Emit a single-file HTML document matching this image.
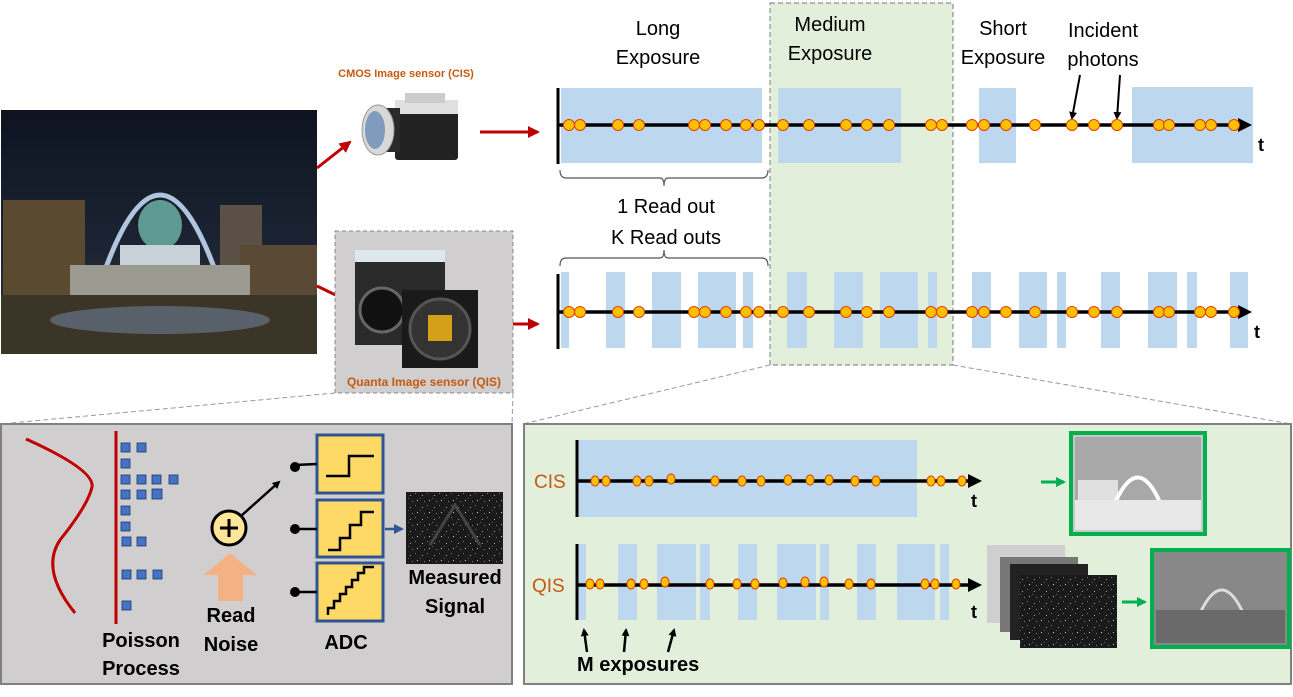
<!DOCTYPE html>
<html><head><meta charset="utf-8"><style>
body{margin:0;background:#fff;width:1293px;height:697px;overflow:hidden}
svg{display:block;font-family:"Liberation Sans",sans-serif}
</style></head><body>
<svg width="1293" height="697" viewBox="0 0 1293 697" xmlns="http://www.w3.org/2000/svg">
<defs>
<marker id="ab" markerWidth="8" markerHeight="8" refX="6" refY="4" orient="auto" markerUnits="userSpaceOnUse"><path d="M0,0 L8,4 L0,8 z" fill="#000"/></marker>
<marker id="abig" markerWidth="14" markerHeight="14" refX="10" refY="7" orient="auto" markerUnits="userSpaceOnUse"><path d="M0,0 L14,7 L0,14 z" fill="#000"/></marker>
<marker id="ar" markerWidth="12" markerHeight="12" refX="10" refY="6" orient="auto" markerUnits="userSpaceOnUse"><path d="M0,0 L12,6 L0,12 z" fill="#c00000"/></marker>
<marker id="ag" markerWidth="10" markerHeight="10" refX="8" refY="5" orient="auto" markerUnits="userSpaceOnUse"><path d="M0,0 L10,5 L0,10 z" fill="#00b050"/></marker>
<marker id="abl" markerWidth="10" markerHeight="10" refX="8" refY="5" orient="auto" markerUnits="userSpaceOnUse"><path d="M0,0 L10,5 L0,10 z" fill="#2f5597"/></marker>
<linearGradient id="sky" x1="0" y1="0" x2="0" y2="1"><stop offset="0" stop-color="#0d1420"/><stop offset="0.6" stop-color="#1d2535"/><stop offset="1" stop-color="#3a3020"/></linearGradient>
<pattern id="noise" width="12" height="12" patternUnits="userSpaceOnUse"><rect width="12" height="12" fill="#1a1a1a"/><rect x="2" y="3" width="1" height="1" fill="#aaa"/><rect x="7" y="1" width="1" height="1" fill="#777"/><rect x="9" y="8" width="1" height="1" fill="#ccc"/><rect x="4" y="9" width="1" height="1" fill="#888"/><rect x="0" y="6" width="1" height="1" fill="#666"/></pattern>
</defs>

<rect x="770" y="3" width="183" height="362" fill="#e2efda" stroke="#777" stroke-dasharray="5,3"/>

<!-- photo -->
<rect x="1" y="110" width="316" height="244" fill="url(#sky)"/>
<path d="M105,270 Q160,120 215,270" fill="none" stroke="#b0c4de" stroke-width="5"/>
<rect x="3" y="200" width="82" height="100" fill="#5a4a30"/>
<rect x="220" y="205" width="42" height="65" fill="#5a5045"/>
<rect x="240" y="245" width="77" height="50" fill="#5a4a35"/>
<ellipse cx="160" cy="225" rx="22" ry="25" fill="#5f9a92"/>
<rect x="120" y="245" width="80" height="50" fill="#c8d0d8"/>
<rect x="70" y="265" width="180" height="45" fill="#9a9a90"/>
<rect x="1" y="295" width="316" height="59" fill="#3b3528"/>
<ellipse cx="160" cy="320" rx="110" ry="14" fill="#58606a"/>

<line x1="317" y1="168" x2="350" y2="142" stroke="#c00000" stroke-width="3" marker-end="url(#ar)"/>
<line x1="317" y1="286" x2="350" y2="302" stroke="#c00000" stroke-width="3" marker-end="url(#ar)"/>
<line x1="480" y1="132" x2="538" y2="132" stroke="#c00000" stroke-width="3" marker-end="url(#ar)"/>
<line x1="480" y1="324" x2="538" y2="324" stroke="#c00000" stroke-width="3" marker-end="url(#ar)"/>

<text x="406" y="77" font-size="11" font-weight="bold" fill="#c55a11" text-anchor="middle">CMOS Image sensor (CIS)</text>
<!-- camera -->
<rect x="395" y="100" width="63" height="60" rx="3" fill="#222"/>
<rect x="395" y="100" width="63" height="14" fill="#e0e0e0"/>
<rect x="405" y="93" width="40" height="10" fill="#ccc"/>
<rect x="378" y="108" width="22" height="44" fill="#2a2a2a"/>
<ellipse cx="378" cy="130" rx="16" ry="25" fill="#d8d8d8" stroke="#999"/>
<ellipse cx="375" cy="130" rx="10" ry="19" fill="#7f9bbd"/>

<!-- QIS box -->
<rect x="335" y="231" width="178" height="162" fill="#d0cece" stroke="#888" stroke-dasharray="4,3"/>
<rect x="355" y="250" width="90" height="95" fill="#2a2a2a"/>
<rect x="355" y="250" width="90" height="12" fill="#dde8f0"/>
<circle cx="382" cy="310" r="22" fill="#111" stroke="#666" stroke-width="3"/>
<rect x="402" y="290" width="76" height="78" fill="#1a1a1a"/>
<circle cx="440" cy="329" r="30" fill="#333" stroke="#555" stroke-width="3"/>
<rect x="428" y="315" width="24" height="26" fill="#d4a017"/>
<text x="424" y="386" font-size="12" font-weight="bold" fill="#c55a11" text-anchor="middle">Quanta Image sensor (QIS)</text>

<line x1="335" y1="393" x2="0" y2="424" stroke="#999" stroke-dasharray="5,3"/>
<line x1="513" y1="393" x2="512" y2="424" stroke="#999" stroke-dasharray="5,3"/>
<line x1="770" y1="365" x2="523" y2="424" stroke="#999" stroke-dasharray="5,3"/>
<line x1="953" y1="365" x2="1291" y2="424" stroke="#999" stroke-dasharray="5,3"/>

<g font-size="20" fill="#000" text-anchor="middle">
<text x="658" y="35">Long</text><text x="658" y="64">Exposure</text>
<text x="830" y="31">Medium</text><text x="830" y="60">Exposure</text>
<text x="1003" y="35">Short</text><text x="1003" y="64">Exposure</text>
<text x="1103" y="37">Incident</text><text x="1103" y="66">photons</text>
<text x="666" y="213">1 Read out</text>
<text x="666" y="244">K Read outs</text>
</g>
<line x1="1080" y1="75" x2="1072" y2="118" stroke="#000" stroke-width="2" marker-end="url(#ab)"/>
<line x1="1120" y1="75" x2="1117" y2="118" stroke="#000" stroke-width="2" marker-end="url(#ab)"/>

<g fill="#bdd7ee">
<rect x="561" y="88" width="201" height="75"/><rect x="778" y="88" width="123" height="75"/>
<rect x="979" y="88" width="37" height="75"/><rect x="1132" y="87" width="121" height="76"/>
</g>
<line x1="558" y1="88" x2="558" y2="164" stroke="#000" stroke-width="3"/>
<line x1="558" y1="125" x2="1248" y2="125" stroke="#000" stroke-width="3.5" marker-end="url(#abig)"/>
<text x="1258" y="151" font-size="18" font-weight="bold">t</text>
<g fill="#ffc000" stroke="#e04000" stroke-width="1">
<circle cx="569" cy="125" r="5.5"/><circle cx="580" cy="125" r="5.5"/><circle cx="618" cy="125" r="5.5"/><circle cx="639" cy="125" r="5.5"/><circle cx="694" cy="125" r="5.5"/><circle cx="705" cy="125" r="5.5"/><circle cx="726" cy="125" r="5.5"/><circle cx="746" cy="125" r="5.5"/><circle cx="759" cy="125" r="5.5"/><circle cx="783" cy="125" r="5.5"/><circle cx="809" cy="125" r="5.5"/><circle cx="846" cy="125" r="5.5"/><circle cx="867" cy="125" r="5.5"/><circle cx="889" cy="125" r="5.5"/><circle cx="931" cy="125" r="5.5"/><circle cx="942" cy="125" r="5.5"/><circle cx="972" cy="125" r="5.5"/><circle cx="984" cy="125" r="5.5"/><circle cx="1006" cy="125" r="5.5"/><circle cx="1035" cy="125" r="5.5"/><circle cx="1072" cy="125" r="5.5"/><circle cx="1094" cy="125" r="5.5"/><circle cx="1117" cy="125" r="5.5"/><circle cx="1159" cy="125" r="5.5"/><circle cx="1169" cy="125" r="5.5"/><circle cx="1200" cy="125" r="5.5"/><circle cx="1211" cy="125" r="5.5"/><circle cx="1234" cy="125" r="5.5"/>
</g>
<path d="M560,170 Q560,178 566,178 L660,178 Q664,178 664,186 Q664,178 668,178 L762,178 Q768,178 768,170" fill="none" stroke="#555" stroke-width="1.2"/>
<path d="M560,266 Q560,258 566,258 L660,258 Q664,258 664,250 Q664,258 668,258 L762,258 Q768,258 768,266" fill="none" stroke="#555" stroke-width="1.2"/>

<g fill="#bdd7ee">
<rect x="561" y="272" width="8" height="76"/><rect x="606" y="272" width="19" height="76"/><rect x="652" y="272" width="29" height="76"/><rect x="698" y="272" width="38" height="76"/><rect x="743" y="272" width="10" height="76"/><rect x="787" y="272" width="20" height="76"/><rect x="834" y="272" width="29" height="76"/><rect x="880" y="272" width="38" height="76"/><rect x="928" y="272" width="9" height="76"/><rect x="972" y="272" width="19" height="76"/><rect x="1019" y="272" width="28" height="76"/><rect x="1057" y="272" width="9" height="76"/><rect x="1101" y="272" width="19" height="76"/><rect x="1148" y="272" width="29" height="76"/><rect x="1187" y="272" width="10" height="76"/><rect x="1230" y="272" width="18" height="76"/>
</g>
<line x1="558" y1="274" x2="558" y2="349" stroke="#000" stroke-width="3"/>
<line x1="558" y1="312" x2="1248" y2="312" stroke="#000" stroke-width="3.5" marker-end="url(#abig)"/>
<text x="1254" y="338" font-size="18" font-weight="bold">t</text>
<g fill="#ffc000" stroke="#e04000" stroke-width="1">
<circle cx="569" cy="312" r="5.5"/><circle cx="580" cy="312" r="5.5"/><circle cx="618" cy="312" r="5.5"/><circle cx="639" cy="312" r="5.5"/><circle cx="694" cy="312" r="5.5"/><circle cx="705" cy="312" r="5.5"/><circle cx="726" cy="312" r="5.5"/><circle cx="746" cy="312" r="5.5"/><circle cx="759" cy="312" r="5.5"/><circle cx="783" cy="312" r="5.5"/><circle cx="809" cy="312" r="5.5"/><circle cx="846" cy="312" r="5.5"/><circle cx="867" cy="312" r="5.5"/><circle cx="889" cy="312" r="5.5"/><circle cx="931" cy="312" r="5.5"/><circle cx="942" cy="312" r="5.5"/><circle cx="972" cy="312" r="5.5"/><circle cx="984" cy="312" r="5.5"/><circle cx="1006" cy="312" r="5.5"/><circle cx="1035" cy="312" r="5.5"/><circle cx="1072" cy="312" r="5.5"/><circle cx="1094" cy="312" r="5.5"/><circle cx="1117" cy="312" r="5.5"/><circle cx="1159" cy="312" r="5.5"/><circle cx="1169" cy="312" r="5.5"/><circle cx="1200" cy="312" r="5.5"/><circle cx="1211" cy="312" r="5.5"/><circle cx="1234" cy="312" r="5.5"/>
</g>

<!-- bottom-left panel -->
<rect x="1" y="424" width="511" height="260" fill="#d0cece" stroke="#808080" stroke-width="2"/>
<path d="M26,439 Q95,470 92,487 Q88,505 60,540 Q40,570 75,613" fill="none" stroke="#c00000" stroke-width="3"/>
<line x1="116" y1="431" x2="116" y2="624" stroke="#c00000" stroke-width="3"/>
<g fill="#4472c4" stroke="#1f3864" stroke-width="0.8">
<rect x="121" y="443" width="9" height="9"/><rect x="137" y="443" width="9" height="9"/>
<rect x="121" y="459" width="9" height="9"/>
<rect x="121" y="475" width="9" height="9"/><rect x="137" y="475" width="9" height="9"/><rect x="152" y="475" width="9" height="9"/><rect x="169" y="475" width="9" height="9"/>
<rect x="121" y="490" width="9" height="9"/><rect x="137" y="490" width="9" height="9"/><rect x="152" y="489" width="10" height="10"/>
<rect x="121" y="506" width="9" height="9"/>
<rect x="121" y="522" width="9" height="9"/>
<rect x="122" y="537" width="9" height="9"/><rect x="137" y="537" width="9" height="9"/>
<rect x="122" y="570" width="9" height="9"/><rect x="137" y="570" width="9" height="9"/><rect x="153" y="570" width="9" height="9"/>
<rect x="122" y="601" width="9" height="9"/>
</g>
<g font-size="20" font-weight="bold" fill="#000" text-anchor="middle">
<text x="141" y="647">Poisson</text><text x="141" y="675">Process</text>
<text x="231" y="622">Read</text><text x="231" y="651">Noise</text>
<text x="346" y="649">ADC</text>
<text x="455" y="584">Measured</text><text x="455" y="613">Signal</text>
</g>
<circle cx="229" cy="528" r="17" fill="#ffe699" stroke="#000" stroke-width="3"/>
<path d="M220,528 H238 M229,519 V537" stroke="#000" stroke-width="3"/>
<line x1="241" y1="516" x2="279" y2="482" stroke="#000" stroke-width="2.5" marker-end="url(#ab)"/>
<path d="M218,601 H243 V575 H257 L230,553 L204,575 H218 z" fill="#f4b183"/>
<g stroke="#2f5597" stroke-width="3" fill="#ffd966">
<rect x="317" y="435" width="66" height="58"/><rect x="317" y="500" width="66" height="57"/><rect x="317" y="563" width="66" height="58"/>
</g>
<g stroke="#000" stroke-width="2.5" fill="none">
<path d="M326,476 H349 V456 H374"/>
<path d="M328,550 H340 V538 H350 V525 H361 V512 H374"/>
<path d="M328,615 V608 H334 V601 H340 V594 H346 V587 H352 V580 H358 V573 H364 V567 H374"/>
<line x1="295" y1="465" x2="317" y2="464"/><line x1="295" y1="529" x2="317" y2="529"/><line x1="295" y1="592" x2="317" y2="592"/>
</g>
<circle cx="295" cy="467" r="5" fill="#000"/><circle cx="295" cy="529" r="5" fill="#000"/><circle cx="295" cy="592" r="5" fill="#000"/>
<line x1="385" y1="529" x2="402" y2="529" stroke="#2f5597" stroke-width="2.5" marker-end="url(#abl)"/>
<rect x="406" y="492" width="97" height="72" fill="url(#noise)"/>
<path d="M430,545 L455,505 L480,545" fill="none" stroke="#444" stroke-width="3"/>

<!-- bottom-right panel -->
<rect x="524" y="424" width="767" height="260" fill="#e2efda" stroke="#808080" stroke-width="2"/>
<text x="534" y="488" font-size="19" fill="#c55a11">CIS</text>
<text x="532" y="592" font-size="19" fill="#c55a11">QIS</text>
<rect x="578" y="440" width="339" height="77" fill="#bdd7ee"/>
<line x1="577" y1="440" x2="577" y2="517" stroke="#000" stroke-width="3"/>
<line x1="577" y1="481" x2="978" y2="481" stroke="#000" stroke-width="3.5" marker-end="url(#abig)"/>
<text x="971" y="507" font-size="18" font-weight="bold">t</text>
<g fill="#ffc000" stroke="#e04000" stroke-width="1">
<ellipse cx="595" cy="481" rx="4" ry="5"/><ellipse cx="606" cy="481" rx="4" ry="5"/><ellipse cx="637" cy="481" rx="4" ry="5"/><ellipse cx="649" cy="481" rx="4" ry="5"/><ellipse cx="671" cy="479" rx="4" ry="5"/><ellipse cx="715" cy="481" rx="4" ry="5"/><ellipse cx="742" cy="481" rx="4" ry="5"/><ellipse cx="761" cy="481" rx="4" ry="5"/><ellipse cx="788" cy="480" rx="4" ry="5"/><ellipse cx="810" cy="480" rx="4" ry="5"/><ellipse cx="829" cy="480" rx="4" ry="5"/><ellipse cx="855" cy="481" rx="4" ry="5"/><ellipse cx="876" cy="481" rx="4" ry="5"/><ellipse cx="931" cy="481" rx="4" ry="5"/><ellipse cx="941" cy="481" rx="4" ry="5"/><ellipse cx="962" cy="481" rx="4" ry="5"/>
</g>
<g fill="#bdd7ee">
<rect x="578" y="544" width="8" height="76"/><rect x="618" y="544" width="19" height="76"/><rect x="657" y="544" width="39" height="76"/><rect x="700" y="544" width="10" height="76"/><rect x="738" y="544" width="19" height="76"/><rect x="777" y="544" width="39" height="76"/><rect x="820" y="544" width="9" height="76"/><rect x="857" y="544" width="19" height="76"/><rect x="897" y="544" width="38" height="76"/><rect x="940" y="544" width="9" height="76"/>
</g>
<line x1="577" y1="544" x2="577" y2="620" stroke="#000" stroke-width="3"/>
<line x1="577" y1="585" x2="978" y2="585" stroke="#000" stroke-width="3.5" marker-end="url(#abig)"/>
<text x="971" y="618" font-size="18" font-weight="bold">t</text>
<g fill="#ffc000" stroke="#e04000" stroke-width="1">
<ellipse cx="590" cy="584" rx="4" ry="5"/><ellipse cx="600" cy="584" rx="4" ry="5"/><ellipse cx="631" cy="584" rx="4" ry="5"/><ellipse cx="644" cy="584" rx="4" ry="5"/><ellipse cx="665" cy="582" rx="4" ry="5"/><ellipse cx="710" cy="584" rx="4" ry="5"/><ellipse cx="737" cy="584" rx="4" ry="5"/><ellipse cx="755" cy="584" rx="4" ry="5"/><ellipse cx="783" cy="583" rx="4" ry="5"/><ellipse cx="805" cy="582" rx="4" ry="5"/><ellipse cx="824" cy="582" rx="4" ry="5"/><ellipse cx="849" cy="584" rx="4" ry="5"/><ellipse cx="871" cy="584" rx="4" ry="5"/><ellipse cx="925" cy="584" rx="4" ry="5"/><ellipse cx="935" cy="584" rx="4" ry="5"/><ellipse cx="956" cy="584" rx="4" ry="5"/>
</g>
<g stroke="#000" stroke-width="2.5">
<line x1="587" y1="652" x2="584" y2="630" marker-end="url(#ab)"/>
<line x1="624" y1="652" x2="626" y2="630" marker-end="url(#ab)"/>
<line x1="668" y1="652" x2="674" y2="630" marker-end="url(#ab)"/>
</g>
<text x="577" y="671" font-size="20" font-weight="bold">M exposures</text>

<line x1="1041" y1="482" x2="1064" y2="482" stroke="#00b050" stroke-width="3" marker-end="url(#ag)"/>
<rect x="1071" y="433" width="134" height="101" fill="#c8c8c8" stroke="#00b050" stroke-width="4"/>
<rect x="1075" y="437" width="126" height="93" fill="#a8a8a8"/>
<rect x="1078" y="480" width="40" height="30" fill="#e0e0e0"/>
<path d="M1110,515 Q1138,440 1165,515" fill="none" stroke="#fff" stroke-width="4"/>
<rect x="1075" y="500" width="126" height="30" fill="#e8e8e8"/>

<rect x="987" y="545" width="78" height="78" fill="#cfcfcf"/>
<rect x="1000" y="557" width="78" height="75" fill="#777"/>
<rect x="1010" y="564" width="78" height="76" fill="#222"/>
<rect x="1020" y="575" width="97" height="73" fill="url(#noise)"/>
<line x1="1122" y1="602" x2="1145" y2="602" stroke="#00b050" stroke-width="3" marker-end="url(#ag)"/>
<rect x="1152" y="550" width="137" height="97" fill="#888" stroke="#00b050" stroke-width="4"/>
<path d="M1195,625 Q1222,555 1248,625" fill="none" stroke="#ddd" stroke-width="3"/>
<rect x="1156" y="610" width="129" height="33" fill="#6a6a6a"/>
</svg>
</body></html>
